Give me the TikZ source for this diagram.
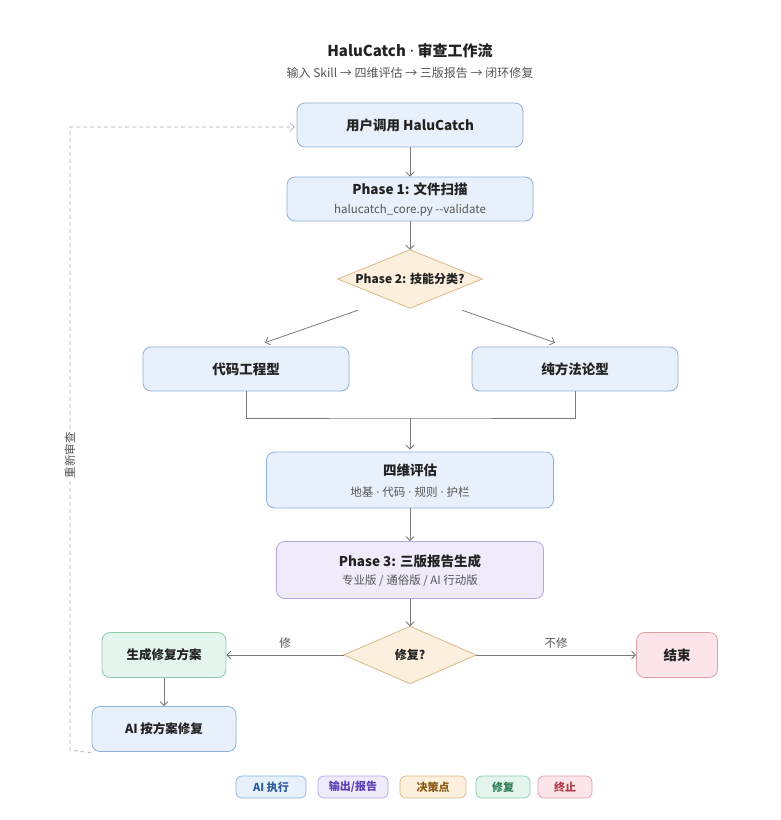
\documentclass[tikz,border=0pt]{standalone}
\usepackage{fontspec}
\setmainfont{Noto Sans CJK SC}
\newfontfamily\latinf{Noto Sans}
\newcommand{\mdot}{{\latinf\ ·\ }}
\usetikzlibrary{shapes.geometric,arrows.meta,calc}
\definecolor{bluefill}{HTML}{E8F1FB}
\definecolor{blueline}{HTML}{8FB0D8}
\definecolor{purfill}{HTML}{EFEBFB}
\definecolor{purline}{HTML}{B3A6E0}
\definecolor{orfill}{HTML}{FCEFDD}
\definecolor{orline}{HTML}{D9B98A}
\definecolor{grfill}{HTML}{E3F5EC}
\definecolor{grline}{HTML}{8FCBAA}
\definecolor{rdfill}{HTML}{FBE5E8}
\definecolor{rdline}{HTML}{E0A0A8}
\definecolor{txt}{HTML}{222222}
\definecolor{subtxt}{HTML}{555555}
\definecolor{conn}{HTML}{7A7A7A}
\definecolor{legblue}{HTML}{2B5C9E}
\definecolor{legpur}{HTML}{5B3FB5}
\definecolor{legbrown}{HTML}{8A5B12}
\definecolor{leggreen}{HTML}{2E7D55}
\definecolor{legred}{HTML}{B03A48}
\tikzset{
  box/.style={rounded corners=8pt, draw=blueline, fill=bluefill, line width=0.8pt,
    align=center, text=txt, inner sep=0pt},
  decarea/.style={rectangle, inner sep=0pt, align=center, text=txt},
  decshape/.style={draw=orline, fill=orfill, line width=0.8pt, line join=miter},
  legbox/.style={rounded corners=6pt, line width=0.7pt, minimum height=22pt, inner sep=0pt,
    font=\fontsize{11}{13}\selectfont\bfseries},
  arr/.style={draw=conn, line width=0.8pt, -{Straight Barb[length=4pt,width=8pt]}},
  ln/.style={draw=conn, line width=0.8pt},
  ttl/.style={font=\fontsize{13.5}{16}\selectfont\bfseries},
  sub/.style={font=\fontsize{11.5}{14}\selectfont, text=subtxt},
  lbl/.style={font=\fontsize{11.5}{14}\selectfont, text=subtxt}
}
\begin{document}
\begin{tikzpicture}[x=1pt,y=-1pt]
\useasboundingbox[fill=white] (0,0) rectangle (780,820);
% title
\node[font=\fontsize{15}{18}\selectfont\bfseries, text=txt] (title) at (410,51) {HaluCatch\mdot 审查工作流};
\node[font=\fontsize{12}{14}\selectfont, text=subtxt] (subtitle) at (410,73) {输入 Skill → 四维评估 → 三版报告 → 闭环修复};
% nodes
\node[box, minimum width=226pt, minimum height=44pt, ttl] (user) at (410,125) {用户调用 HaluCatch};
\node[box, minimum width=246pt, minimum height=44pt] (p1) at (410,199) {};
\node[ttl, text=txt] (p1a) at (410,189) {Phase 1: 文件扫描};
\node[sub] (p1b) at (410,210) {halucatch\_core.py -{}-validate};
\node[decarea, minimum width=144pt, minimum height=58pt] (p2) at (410,279) {};
\draw[decshape] (p2.north) -- (p2.east) -- (p2.south) -- (p2.west) -- cycle;
\node[font=\fontsize{12}{14}\selectfont\bfseries, text=txt] (p2t) at (p2.center) {Phase 2: 技能分类?};
\node[box, minimum width=206pt, minimum height=44pt, ttl] (code) at (246,369) {代码工程型};
\node[box, minimum width=206pt, minimum height=44pt, ttl] (pure) at (575,369) {纯方法论型};
\coordinate (merge) at (410,418);
\node[box, minimum width=287pt, minimum height=56pt] (four) at (410,480) {};
\node[ttl, text=txt] (foura) at (410,470) {四维评估};
\node[sub] (fourb) at (410,492) {地基\mdot 代码\mdot 规则\mdot 护栏};
\node[box, draw=purline, fill=purfill, minimum width=267pt, minimum height=57pt] (p3) at (410,570) {};
\node[ttl, text=txt] (p3a) at (410,561) {Phase 3: 三版报告生成};
\node[sub] (p3b) at (410,581) {专业版 / 通俗版 / AI 行动版};
\node[decarea, minimum width=132pt, minimum height=57pt] (fix) at (410,655) {};
\draw[decshape] (fix.north) -- (fix.east) -- (fix.south) -- (fix.west) -- cycle;
\node[font=\fontsize{12}{14}\selectfont\bfseries, text=txt] (fixt) at (fix.center) {修复?};
\node[box, draw=grline, fill=grfill, minimum width=124pt, minimum height=45pt, font=\fontsize{12.5}{15}\selectfont\bfseries] (gen) at (164,655) {生成修复方案};
\node[box, draw=rdline, fill=rdfill, minimum width=81pt, minimum height=45pt, ttl] (end) at (677,655) {结束};
\node[box, minimum width=144pt, minimum height=45pt, font=\fontsize{12.5}{15}\selectfont\bfseries] (ai) at (164,729) {AI 按方案修复};
% connectors
\draw[arr] (user.south) -- (p1.north);
\draw[arr] (p1.south) -- (p2.north);
\draw[arr] ([xshift=-52pt,yshift=-2pt]p2.south) -- ([xshift=19pt,yshift=4pt]code.north);
\draw[arr] ([xshift=52pt,yshift=-2pt]p2.south) -- ([xshift=-20pt,yshift=4pt]pure.north);
\draw[ln] (code.south) |- (merge) -| (pure.south);
\draw[arr] (merge) -- ([yshift=2pt]four.north);
\draw[arr] (four.south) -- (p3.north);
\draw[arr] (p3.south) -- (fix.north);
\draw[arr] (fix.west) -- node[lbl, above=3pt] (lx) {修} (gen.east);
\draw[arr] (fix.east) -- node[lbl, above=3pt] (ly) {不修} (end.west);
\draw[arr] (gen.south) -- (ai.north);
\coordinate (loopc) at (70,750);
\draw[draw=conn!60, line width=0.7pt, dash pattern=on 4pt off 3pt, -{Straight Barb[length=4pt,width=8pt]}]
  ([yshift=-1pt]ai.south west) -- (loopc) |- ([xshift=-2pt,yshift=-2pt]user.west);
\node[lbl, rotate=90, fill=white, inner sep=1pt] (loopl) at (70,455) {重新审查};
% legend
\node[legbox, draw=blueline, fill=bluefill, text=legblue, minimum width=70pt] (l1) at (271,787) {AI 执行};
\node[legbox, draw=purline, fill=purfill, text=legpur, minimum width=70pt] (l2) at (353,787) {输出/报告};
\node[legbox, draw=orline, fill=orfill, text=legbrown, minimum width=66pt] (l3) at (433,787) {决策点};
\node[legbox, draw=grline, fill=grfill, text=leggreen, minimum width=54pt] (l4) at (503,787) {修复};
\node[legbox, draw=rdline, fill=rdfill, text=legred, minimum width=54pt] (l5) at (565,787) {终止};
\end{tikzpicture}
\end{document}
